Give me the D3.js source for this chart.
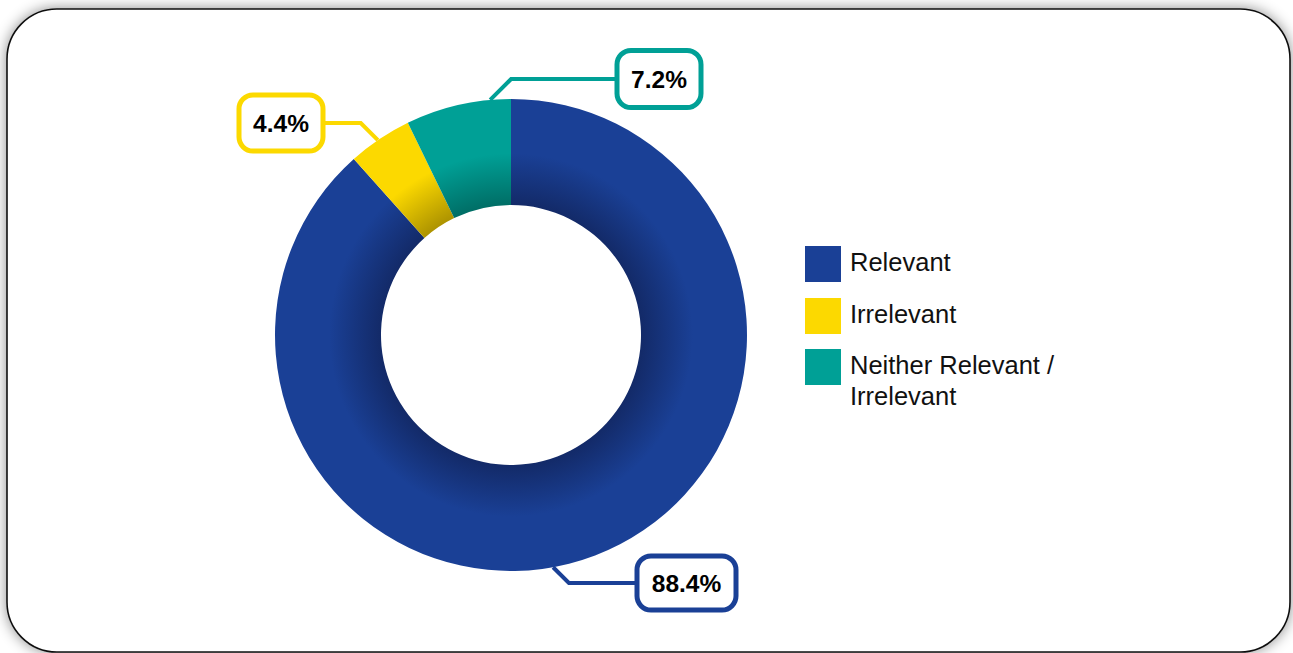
<!DOCTYPE html>
<html><head><meta charset="utf-8">
<script src="https://cdn.jsdelivr.net/npm/d3@7"></script>
<style>html,body{margin:0;padding:0;background:#fff;overflow:hidden}svg{display:block}</style>
</head><body>
<svg id="chart" width="1293" height="653"></svg>
<script>
const categories = ["Relevant", "Irrelevant", "Neither Relevant / Irrelevant"];
const values = [88.4, 4.4, 7.2];
const labels = ["88.4%", "4.4%", "7.2%"];
const colors = ["#1a4096", "#fcd900", "#00a096"];
const darkColors = ["#132a68", "#ad9300", "#006e66"];

const svg = d3.select("#chart");
const defs = svg.append("defs");

const f = defs.append("filter").attr("id","shadow").attr("x","-5%").attr("y","-5%").attr("width","110%").attr("height","110%");
f.append("feDropShadow").attr("dx",0).attr("dy",0).attr("stdDeviation",7).attr("flood-color","#000").attr("flood-opacity",0.45);

svg.append("rect").attr("x",7).attr("y",9).attr("width",1283).attr("height",643)
  .attr("rx",50).attr("ry",50).attr("fill","#fff").attr("stroke","#111").attr("stroke-width",1.6)
  .attr("filter","url(#shadow)");

const cx = 511, cy = 335, R = 236, r = 130;
categories.forEach((c,i)=>{
  const g = defs.append("radialGradient").attr("id","grad"+i).attr("gradientUnits","userSpaceOnUse")
    .attr("cx",0).attr("cy",0).attr("r",R);
  g.append("stop").attr("offset",r/R).attr("stop-color",darkColors[i]);
  g.append("stop").attr("offset",0.77).attr("stop-color",colors[i]);
  g.append("stop").attr("offset",1).attr("stop-color",colors[i]);
});

const pie = d3.pie().sort(null).value(d=>d)(values);
const arc = d3.arc().innerRadius(r).outerRadius(R);
const gPie = svg.append("g").attr("transform",`translate(${cx},${cy})`);
gPie.selectAll("path").data(pie).join("path").attr("d",arc).attr("fill",(d,i)=>`url(#grad${i})`);

// callout layout (relative to pie centre): angle offset from slice middle, elbow y, box placement
const callouts = [
  {angOff: 10.6, dir: 1,  ey: 248, boxX: 126, w: 99, h: 54, side: "right"},
  {angOff: -0.5, dir: -1, ey: -212, boxX: -272, w: 84, h: 56, side: "left"},
  {angOff: 7.9, dir: 1,  ey: -256, boxX: 106, w: 84, h: 57, side: "right"}
];
pie.forEach((d,i)=>{
  const co = callouts[i];
  const a = (d.startAngle + d.endAngle)/2 + co.angOff*Math.PI/180;
  const ax = Math.sin(a)*R, ay = -Math.cos(a)*R;
  const ex = ax + co.dir*Math.abs(co.ey-ay);
  const bx = co.side==="right" ? co.boxX : co.boxX+co.w;
  gPie.append("path")
    .attr("d",`M${ax},${ay}L${ex},${co.ey}L${bx},${co.ey}`)
    .attr("fill","none").attr("stroke",colors[i]).attr("stroke-width",4);
  gPie.append("rect").attr("x",co.boxX).attr("y",co.ey-co.h/2).attr("width",co.w).attr("height",co.h)
    .attr("rx",14).attr("fill","#fff").attr("stroke",colors[i]).attr("stroke-width",5);
  gPie.append("text").attr("x",co.boxX+co.w/2).attr("y",co.ey+9)
    .attr("text-anchor","middle").attr("font-family","Liberation Sans, Arial, sans-serif")
    .attr("font-weight","bold").attr("font-size",24.5).attr("fill","#000").text(labels[i]);
});

// legend
const legend = svg.append("g").attr("transform","translate(805,246)");
const rows = [0, 52, 103];
categories.forEach((c,i)=>{
  const g = legend.append("g").attr("transform",`translate(0,${rows[i]})`);
  g.append("rect").attr("width",36).attr("height",36).attr("fill",colors[i]);
  const t = g.append("text").attr("x",45).attr("y",25).attr("font-family","Liberation Sans, Arial, sans-serif")
    .attr("font-size",25.5).attr("fill","#111");
  if (i===2) {
    t.append("tspan").attr("x",45).text("Neither Relevant /");
    t.append("tspan").attr("x",45).attr("dy",31).text("Irrelevant");
  } else t.text(c);
});
</script>
</body></html>
